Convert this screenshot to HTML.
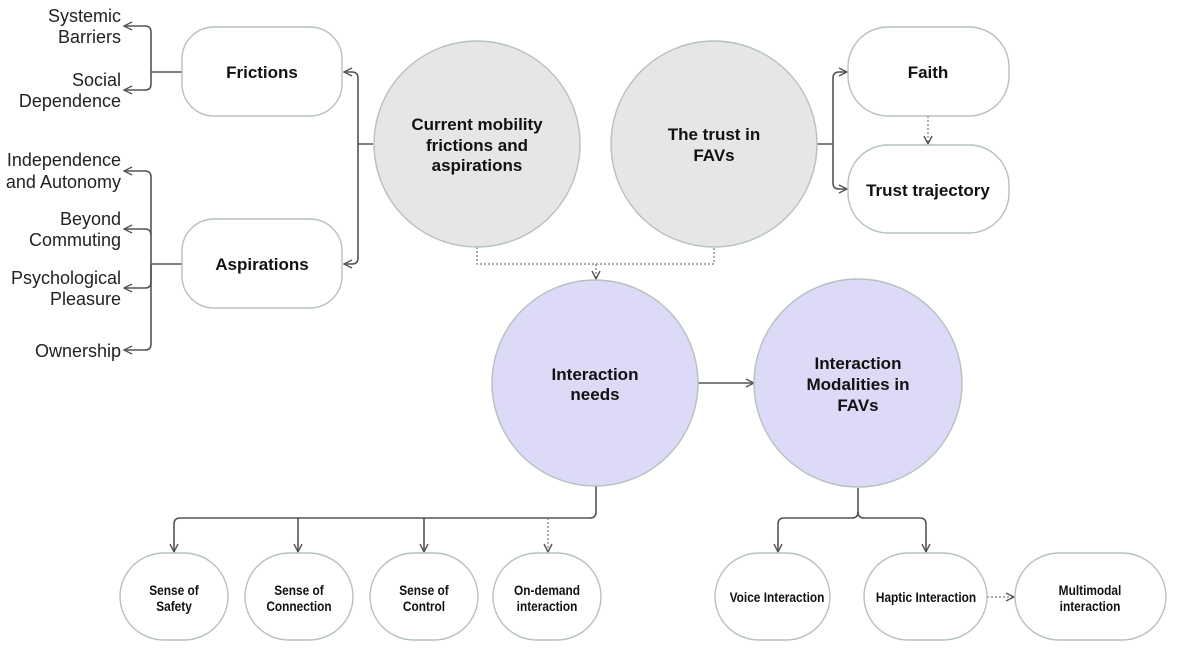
<!DOCTYPE html>
<html><head><meta charset="utf-8"><style>
html,body{margin:0;padding:0;background:#fff;}
svg{display:block;font-family:"Liberation Sans",Arial,sans-serif;}
</style></head><body>
<svg width="1179" height="654" viewBox="0 0 1179 654" xmlns="http://www.w3.org/2000/svg">
<defs>
<marker id="a" viewBox="0 0 10 10" refX="9" refY="5" markerWidth="10" markerHeight="10" markerUnits="userSpaceOnUse" orient="auto">
<path d="M1,1 L9,5 L1,9" fill="none" stroke="#555" stroke-width="1.4"/></marker>
</defs>
<g fill="none" stroke="#555" stroke-width="1.6">
<path d="M182,72 H151 M151,72 V32 Q151,26 145,26 H124" marker-end="url(#a)"/>
<path d="M151,72 V84 Q151,90 145,90 H124" marker-end="url(#a)"/>
<path d="M182,264 H151 M151,264 V177 Q151,171 145,171 H124" marker-end="url(#a)"/>
<path d="M151,235 Q151,229 145,229 H124" marker-end="url(#a)"/>
<path d="M151,264 V282 Q151,288 145,288 H124" marker-end="url(#a)"/>
<path d="M151,264 V344 Q151,350 145,350 H124" marker-end="url(#a)"/>
<path d="M373,144 H358 M358,144 V78 Q358,72 352,72 H344" marker-end="url(#a)"/>
<path d="M358,144 V258 Q358,264 352,264 H344" marker-end="url(#a)"/>
<path d="M817,144 H833 M833,144 V78 Q833,72 839,72 H847" marker-end="url(#a)"/>
<path d="M833,144 V183 Q833,189 839,189 H847" marker-end="url(#a)"/>
<path d="M698,383 H754" marker-end="url(#a)"/>
<path d="M596,486 V512 Q596,518 590,518 H180 Q174,518 174,524 V552" marker-end="url(#a)"/>
<path d="M298,518 V552" marker-end="url(#a)"/>
<path d="M424,518 V552" marker-end="url(#a)"/>
<path d="M858,488 V512 Q858,518 852,518 H784 Q778,518 778,524 V552" marker-end="url(#a)"/>
<path d="M858,512 Q858,518 864,518 H920 Q926,518 926,524 V552" marker-end="url(#a)"/>
</g>
<g fill="none" stroke="#777" stroke-width="1.2" stroke-dasharray="2,2">
<path d="M477,247 V264 H714 V247"/>
<path d="M596,264 V279" marker-end="url(#a)"/>
<path d="M928,116 V144" marker-end="url(#a)"/>
<path d="M548,518 V552" marker-end="url(#a)"/>
<path d="M987,597 H1014" marker-end="url(#a)"/>
</g>
<g fill="#fff" stroke="#b5c2bf" stroke-width="1.4">
<rect x="182" y="27" width="160" height="89" rx="32"/>
<rect x="182" y="219" width="160" height="89" rx="32"/>
<rect x="848" y="27" width="161" height="89" rx="40"/>
<rect x="848" y="145" width="161" height="88" rx="40"/>
<rect x="120" y="553" width="108" height="87" rx="44"/>
<rect x="245" y="553" width="108" height="87" rx="44"/>
<rect x="370" y="553" width="108" height="87" rx="44"/>
<rect x="493" y="553" width="108" height="87" rx="44"/>
<rect x="715" y="553" width="115" height="87" rx="44"/>
<rect x="864" y="553" width="123" height="87" rx="44"/>
<rect x="1015" y="553" width="151" height="87" rx="44"/>
</g>
<g stroke="#b5c2bf" stroke-width="1.4">
<circle cx="477" cy="144" r="103" fill="#e6e6e6"/>
<circle cx="714" cy="144" r="103" fill="#e6e6e6"/>
<circle cx="595" cy="383" r="103" fill="#dcdaf7"/>
<circle cx="858" cy="383" r="104" fill="#dcdaf7"/>
</g>
<g fill="#111" font-weight="bold" font-size="17" text-anchor="middle">
<text x="262" y="78">Frictions</text>
<text x="262" y="270">Aspirations</text>
<text x="928" y="78">Faith</text>
<text x="928" y="196">Trust trajectory</text>
<text x="477" y="130">Current mobility</text>
<text x="477" y="151">frictions and</text>
<text x="477" y="171">aspirations</text>
<text x="714" y="140">The trust in</text>
<text x="714" y="161">FAVs</text>
<text x="595" y="380">Interaction</text>
<text x="595" y="400">needs</text>
<text x="858" y="369">Interaction</text>
<text x="858" y="390">Modalities in</text>
<text x="858" y="411">FAVs</text>
</g>
<g fill="#111" font-weight="bold" font-size="13.5" text-anchor="middle">
<g transform="translate(174,0) scale(0.88,1)"><text x="0" y="595">Sense of</text><text x="0" y="611">Safety</text></g>
<g transform="translate(299,0) scale(0.88,1)"><text x="0" y="595">Sense of</text><text x="0" y="611">Connection</text></g>
<g transform="translate(424,0) scale(0.88,1)"><text x="0" y="595">Sense of</text><text x="0" y="611">Control</text></g>
<g transform="translate(547,0) scale(0.88,1)"><text x="0" y="595">On-demand</text><text x="0" y="611">interaction</text></g>
<g transform="translate(777,0) scale(0.88,1)"><text x="0" y="602">Voice Interaction</text></g>
<g transform="translate(926,0) scale(0.88,1)"><text x="0" y="602">Haptic Interaction</text></g>
<g transform="translate(1090,0) scale(0.88,1)"><text x="0" y="595">Multimodal</text><text x="0" y="611">interaction</text></g>
</g>
<g fill="#222" font-size="18" text-anchor="end">
<text x="121" y="22">Systemic</text><text x="121" y="43">Barriers</text>
<text x="121" y="86">Social</text><text x="121" y="107">Dependence</text>
<text x="121" y="166">Independence</text><text x="121" y="188">and Autonomy</text>
<text x="121" y="225">Beyond</text><text x="121" y="246">Commuting</text>
<text x="121" y="284">Psychological</text><text x="121" y="305">Pleasure</text>
<text x="121" y="357">Ownership</text>
</g>
</svg>
</body></html>
